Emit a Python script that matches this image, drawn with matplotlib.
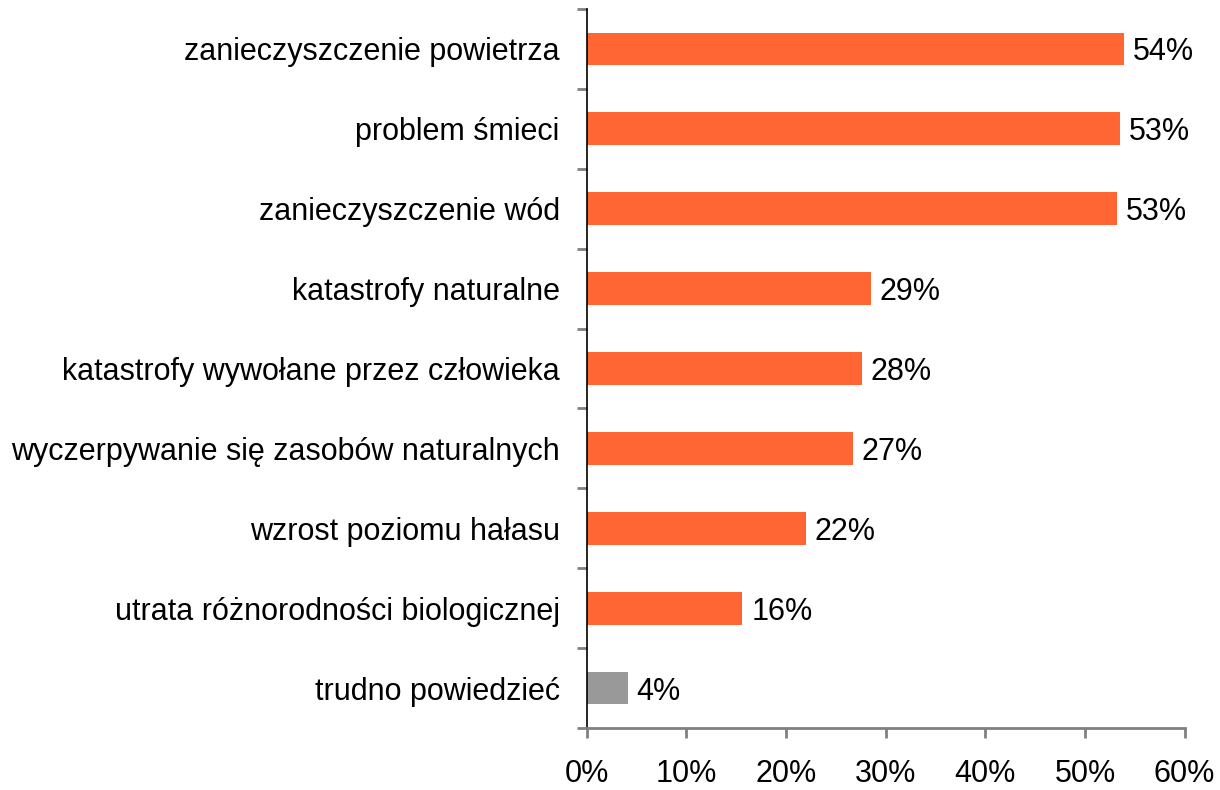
import numpy as np
import matplotlib.pyplot as plt

plt.rcParams['font.family'] = ['Liberation Sans', 'DejaVu Sans']

categories = ["zanieczyszczenie powietrza", "problem śmieci", "zanieczyszczenie wód",
              "katastrofy naturalne", "katastrofy wywołane przez człowieka",
              "wyczerpywanie się zasobów naturalnych", "wzrost poziomu hałasu",
              "utrata różnorodności biologicznej", "trudno powiedzieć"]
values = [53.9, 53.5, 53.2, 28.5, 27.6, 26.7, 22.0, 15.6, 4.1]
labels = ["54%", "53%", "53%", "29%", "28%", "27%", "22%", "16%", "4%"]
colors = ["#FF6633"] * 8 + ["#999999"]

fs = 22

fig = plt.figure(figsize=(12.2, 7.9), dpi=100)
ax = fig.add_axes([0.481, 0.0785, 0.971 - 0.481, 0.9886 - 0.0785])

y = np.arange(len(categories))
ax.barh(y, values, height=0.41, color=colors)
for yi, v, lab in zip(y, values, labels):
    ax.text(v + 0.9, yi, lab, va='center_baseline', ha='left', fontsize=fs)

ax.set_xlim(0, 60)
ax.set_ylim(len(categories) - 0.5, -0.5)
ax.set_xticks(np.arange(0, 61, 10))
ax.set_xticklabels([f"{t}%" for t in range(0, 61, 10)], fontsize=fs)
ax.tick_params(axis='x', direction='out', length=7, width=2, color='#808080', pad=15)

ax.set_yticks(y)
ax.set_yticklabels(categories, fontsize=fs, va='center_baseline')
ax.set_yticks(np.arange(-0.5, len(categories), 1), minor=True)
ax.tick_params(axis='y', which='major', length=0, pad=19.5)
ax.tick_params(axis='y', which='minor', length=7, width=2, color='#808080')

for s in ['top', 'right']:
    ax.spines[s].set_visible(False)
ax.spines['left'].set_color('black')
ax.spines['left'].set_linewidth(1.2)
ax.spines['bottom'].set_color('#808080')
ax.spines['bottom'].set_linewidth(2)

fig.savefig("out.png", dpi=100)
